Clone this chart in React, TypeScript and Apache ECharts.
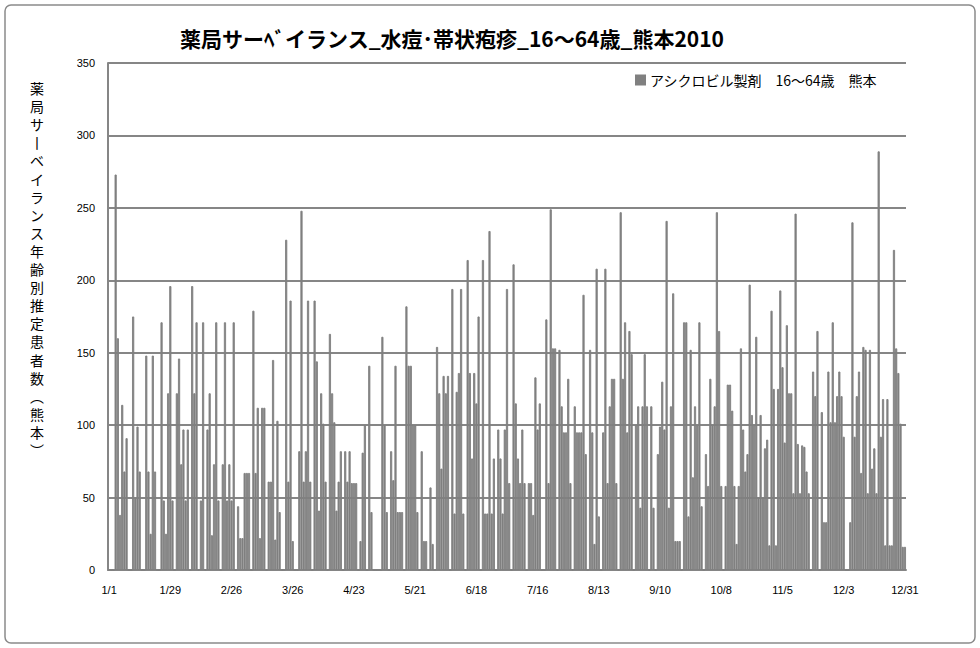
import React, { useEffect, useRef } from 'react';
import * as echarts from 'echarts';

// Daily estimated patients (2010), month by month
const jan = [0, 0, 0, 273, 160, 38, 114, 68, 91, 0, 0, 175, 50, 99, 68, 0, 0, 148, 68, 25, 148, 68, 0, 0, 171, 48, 25, 122, 196, 48, 0];
const feb = [122, 146, 73, 97, 48, 97, 0, 196, 122, 171, 0, 48, 171, 0, 97, 122, 24, 73, 171, 48, 0, 73, 171, 48, 73, 48, 171, 0];
const mar = [44, 22, 22, 67, 67, 67, 0, 179, 67, 112, 22, 112, 112, 0, 61, 61, 145, 21, 103, 40, 0, 0, 228, 61, 186, 20, 0, 0, 82, 248, 61];
const apr = [82, 186, 61, 0, 186, 144, 41, 122, 101, 61, 0, 163, 122, 102, 41, 61, 82, 0, 82, 61, 82, 60, 60, 60, 0, 20, 81, 100, 0, 141];
const may = [40, 0, 0, 0, 0, 161, 100, 40, 0, 82, 62, 141, 40, 40, 40, 0, 182, 141, 141, 100, 100, 40, 0, 82, 20, 20, 0, 57, 18, 0, 154];
const jun = [122, 70, 134, 122, 134, 0, 194, 39, 123, 136, 194, 39, 0, 214, 136, 77, 136, 115, 175, 0, 214, 39, 39, 234, 39, 77, 0, 97, 77, 39];
const jul = [97, 194, 60, 0, 211, 115, 77, 60, 97, 60, 0, 60, 60, 38, 133, 97, 115, 0, 0, 173, 60, 249, 153, 153, 0, 152, 113, 95, 95, 132, 60];
const aug = [0, 113, 95, 95, 95, 190, 80, 0, 152, 95, 18, 208, 37, 0, 95, 208, 60, 113, 132, 132, 60, 0, 247, 132, 171, 95, 165, 149, 0, 100, 113];
const sep = [43, 113, 149, 113, 0, 113, 43, 0, 80, 99, 130, 97, 241, 43, 113, 191, 20, 20, 20, 0, 171, 171, 37, 152, 64, 113, 100, 171, 44, 0];
const oct = [80, 58, 132, 100, 113, 247, 165, 58, 0, 58, 128, 128, 110, 58, 18, 58, 153, 97, 68, 80, 197, 107, 100, 161, 50, 107, 50, 84, 90, 17, 179];
const nov = [125, 17, 125, 193, 140, 88, 169, 122, 122, 53, 246, 87, 53, 86, 85, 68, 53, 0, 137, 120, 165, 0, 109, 33, 33, 137, 102, 171, 102, 120];
const dec = [137, 120, 92, 0, 0, 33, 240, 92, 120, 137, 67, 154, 152, 53, 152, 70, 84, 53, 289, 92, 118, 17, 118, 17, 17, 221, 153, 136, 101, 16, 16];

const dailyValues = [...jan, ...feb, ...mar, ...apr, ...may, ...jun, ...jul, ...aug, ...sep, ...oct, ...nov, ...dec];

const categories = dailyValues.map((_, i) => {
  const d = new Date(2010, 0, 1 + i);
  return `${d.getMonth() + 1}/${d.getDate()}`;
});

const tickLabels = ['1/1', '1/29', '2/26', '3/26', '4/23', '5/21', '6/18', '7/16', '8/13', '9/10', '10/8', '11/5', '12/3', '12/31'];

const seriesName = 'アシクロビル製剤　16～64歳　熊本';
const chartTitle = '薬局サーﾍﾞイランス_水痘･帯状疱疹_16～64歳_熊本2010';
const yTitleChars = ['薬', '局', 'サ', '丨', 'ベ', 'イ', 'ラ', 'ン', 'ス', '年', '齢', '別', '推', '定', '患', '者', '数', '︵', '熊', '本', '︶'];

const JP = '"Noto Sans CJK JP", sans-serif';

export default function App() {
  const ref = useRef<HTMLDivElement>(null);
  useEffect(() => {
    if (!ref.current) return;
    const chart = echarts.init(ref.current, undefined, { renderer: 'svg' });
    const yTitle = yTitleChars.map((ch, k) => ({
      type: 'text',
      x: 37,
      y: 88 + 18.1 * k,
      style: {
        text: ch,
        font: `14px ${JP}`,
        fill: '#000',
        textAlign: 'center',
        textVerticalAlign: 'middle',
      },
    }));
    chart.setOption({
      animation: false,
      backgroundColor: '#ffffff',
      grid: { left: 108, right: 74, top: 63, bottom: 78 },
      legend: {
        data: [seriesName],
        left: 630,
        top: 68,
        icon: 'rect',
        itemWidth: 9,
        itemHeight: 9,
        textStyle: { fontFamily: JP, fontSize: 14, color: '#000' },
      },
      xAxis: {
        type: 'category',
        data: categories,
        boundaryGap: true,
        axisLine: { show: true, lineStyle: { color: '#868686', width: 2 } },
        axisTick: { show: false },
        axisLabel: {
          interval: (index: number, value: string) => tickLabels.includes(value),
          color: '#000',
          fontSize: 11,
          fontFamily: 'Liberation Sans, sans-serif',
          margin: 14,
          hideOverlap: false,
        },
        splitLine: { show: false },
      },
      yAxis: {
        type: 'value',
        min: 0,
        max: 350,
        interval: 50,
        axisLine: { show: true, lineStyle: { color: '#868686', width: 2 } },
        axisTick: { show: false },
        axisLabel: { color: '#000', fontSize: 11, fontFamily: 'Liberation Sans, sans-serif', margin: 13 },
        splitLine: { show: true, lineStyle: { color: '#868686', width: 2 } },
      },
      series: [
        {
          name: seriesName,
          type: 'bar',
          data: dailyValues,
          barCategoryGap: '0%',
          itemStyle: { color: '#808080', borderColor: '#808080', borderWidth: 0.9 },
        },
      ],
      graphic: [
        {
          type: 'rect',
          shape: { x: 5, y: 5, width: 970, height: 638, r: 6 },
          style: { fill: 'none', stroke: '#8a8a8a', lineWidth: 1.5 },
          z: -1,
        },
        {
          type: 'text',
          x: 452,
          y: 38,
          style: {
            text: chartTitle,
            font: `bold 21px ${JP}`,
            fill: '#000',
            textAlign: 'center',
            textVerticalAlign: 'middle',
          },
        },
        ...yTitle,
      ],
    });
    return () => chart.dispose();
  }, []);
  return <div ref={ref} style={{ position: 'fixed', left: 0, top: 0, width: 980, height: 648 }} />;
}
